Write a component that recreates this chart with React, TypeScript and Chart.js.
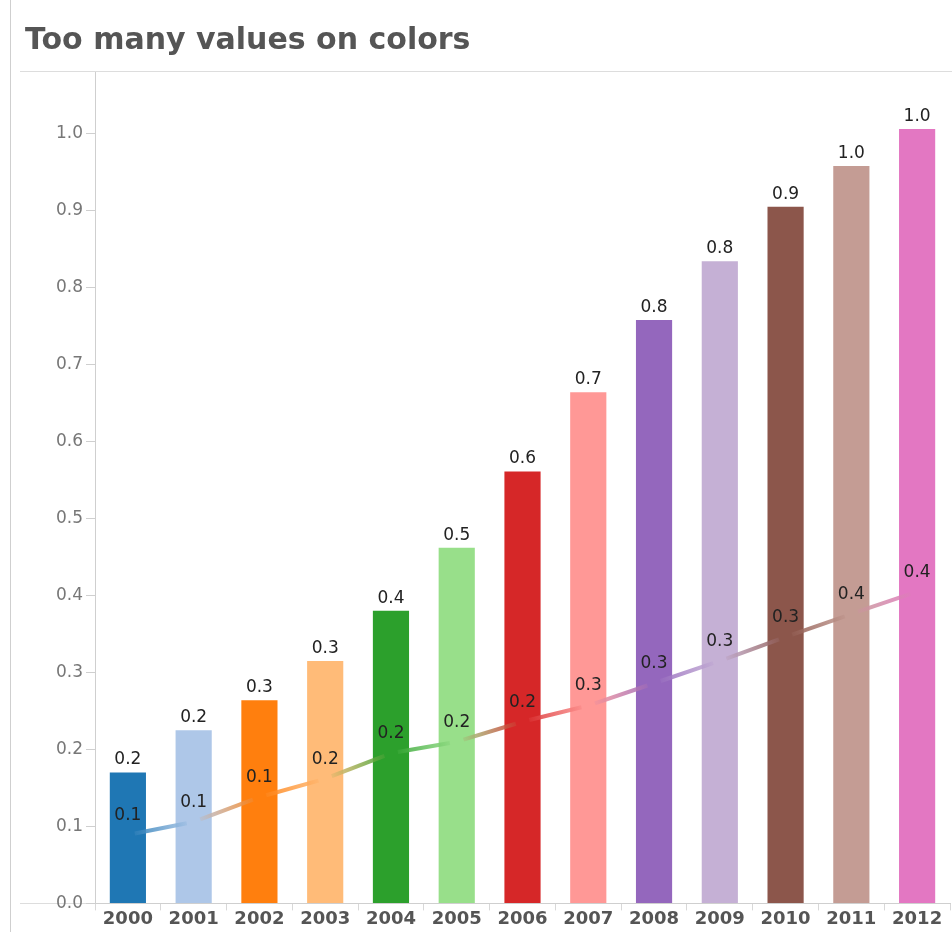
import React, { useEffect, useRef } from 'react';
import { Chart, registerables } from 'chart.js';

Chart.register(...registerables);

const years = ['2000', '2001', '2002', '2003', '2004', '2005', '2006', '2007', '2008', '2009', '2010', '2011', '2012'];
const barValues = [0.170, 0.225, 0.264, 0.315, 0.380, 0.462, 0.561, 0.664, 0.758, 0.834, 0.905, 0.958, 1.006];
const lineValues = [0.089, 0.106, 0.138, 0.162, 0.195, 0.210, 0.236, 0.257, 0.286, 0.315, 0.346, 0.376, 0.405];
const yearColors = [
  '#1f77b4', '#aec7e8', '#ff7f0e', '#ffbb78', '#2ca02c', '#98df8a', '#d62728',
  '#ff9896', '#9467bd', '#c5b0d5', '#8c564b', '#c49c94', '#e377c2',
];
const titleText = 'Too many values on colors';
const yMin = 0;
const yMax = 1.08;
const yStep = 0.1;

const FONT = "'DejaVu Sans', Verdana, sans-serif";

function hexA(hex: string, a: number) {
  const n = parseInt(hex.slice(1), 16);
  return `rgba(${(n >> 16) & 255},${(n >> 8) & 255},${n & 255},${a})`;
}

const framePlugin = {
  id: 'frame',
  beforeDraw(chart: any) {
    const { ctx, width, height, chartArea } = chart;
    ctx.save();
    ctx.fillStyle = '#ffffff';
    ctx.fillRect(0, 0, width, height);
    ctx.strokeStyle = '#cfcfcf';
    ctx.lineWidth = 1;
    ctx.beginPath();
    ctx.moveTo(10.5, 0);
    ctx.lineTo(10.5, height);
    ctx.stroke();
    ctx.strokeStyle = '#dddddd';
    ctx.beginPath();
    ctx.moveTo(20, Math.round(chartArea.top) - 0.5);
    ctx.lineTo(width, Math.round(chartArea.top) - 0.5);
    ctx.stroke();
    ctx.beginPath();
    ctx.moveTo(20, Math.round(chartArea.bottom) + 0.5);
    ctx.lineTo(chartArea.left, Math.round(chartArea.bottom) + 0.5);
    ctx.stroke();
    ctx.restore();
  },
};

const labelPlugin = {
  id: 'valueLabels',
  afterDatasetsDraw(chart: any) {
    const ctx = chart.ctx;
    ctx.save();
    ctx.font = `17px ${FONT}`;
    ctx.fillStyle = '#222';
    ctx.textAlign = 'center';
    ctx.textBaseline = 'bottom';
    chart.data.datasets.forEach((ds: any, di: number) => {
      const meta = chart.getDatasetMeta(di);
      meta.data.forEach((el: any, i: number) => {
        const v = ds.data[i] as number;
        const dy = ds.type === 'bar' ? 4 : 11;
        ctx.fillText(v.toFixed(1), el.x, el.y - dy);
      });
    });
    ctx.restore();
  },
};

export default function App() {
  const ref = useRef<HTMLCanvasElement>(null);

  useEffect(() => {
    if (!ref.current) return;
    const chart = new Chart(ref.current, {
      type: 'bar',
      data: {
        labels: years,
        datasets: [
          {
            type: 'line',
            label: 'line',
            data: lineValues,
            order: 0,
            borderWidth: 4,
            borderColor: yearColors[0],
            borderCapStyle: 'butt',
            pointRadius: 0,
            pointHoverRadius: 0,
            tension: 0,
            segment: {
              borderColor: (c: any) => {
                const g = c.chart.ctx.createLinearGradient(c.p0.x, c.p0.y, c.p1.x, c.p1.y);
                g.addColorStop(0, hexA(yearColors[c.p0DataIndex], 0.85));
                g.addColorStop(1, hexA(yearColors[c.p1DataIndex], 0.85));
                return g;
              },
              borderDash: (c: any) => {
                const L = Math.hypot(c.p1.x - c.p0.x, c.p1.y - c.p0.y);
                return [0, 7, Math.max(L - 14, 0), 3000 + c.p0DataIndex];
              },
            },
          } as any,
          {
            type: 'bar',
            label: 'bars',
            data: barValues,
            order: 1,
            backgroundColor: yearColors,
            borderWidth: 0,
            barPercentage: 0.55,
            categoryPercentage: 1,
          },
        ],
      },
      options: {
        responsive: false,
        animation: false,
        layout: { padding: { left: 25, right: 2, top: 0, bottom: 4 } },
        plugins: {
          legend: { display: false },
          tooltip: { enabled: false },
          title: {
            display: true,
            text: titleText,
            align: 'start',
            color: '#555555',
            font: { family: FONT, size: 30, weight: 'bold' },
            padding: { top: 23, bottom: 13 },
          },
        },
        scales: {
          x: {
            offset: true,
            grid: { offset: true, drawOnChartArea: false, tickLength: 7, color: '#d8d8d8' },
            border: { color: '#cfcfcf' },
            ticks: { color: '#555555', font: { family: FONT, size: 18, weight: 'bold' }, padding: -2 },
          },
          y: {
            min: yMin,
            max: yMax,
            grid: { drawOnChartArea: false, tickLength: 9, color: '#cfcfcf' },
            border: { color: '#cfcfcf' },
            ticks: {
              stepSize: yStep,
              includeBounds: false,
              color: '#777777',
              font: { family: FONT, size: 17 },
              padding: 3,
              callback: (v: any) => Number(v).toFixed(1),
            },
            afterFit: (s: any) => { s.width = 70; },
          },
        },
      },
      plugins: [framePlugin, labelPlugin],
    });
    return () => chart.destroy();
  }, []);

  return (
    <div style={{ position: 'fixed', left: 0, top: 0, width: 952, height: 932, background: '#fff' }}>
      <canvas ref={ref} width={952} height={932} style={{ display: 'block', width: 952, height: 932 }} />
    </div>
  );
}
